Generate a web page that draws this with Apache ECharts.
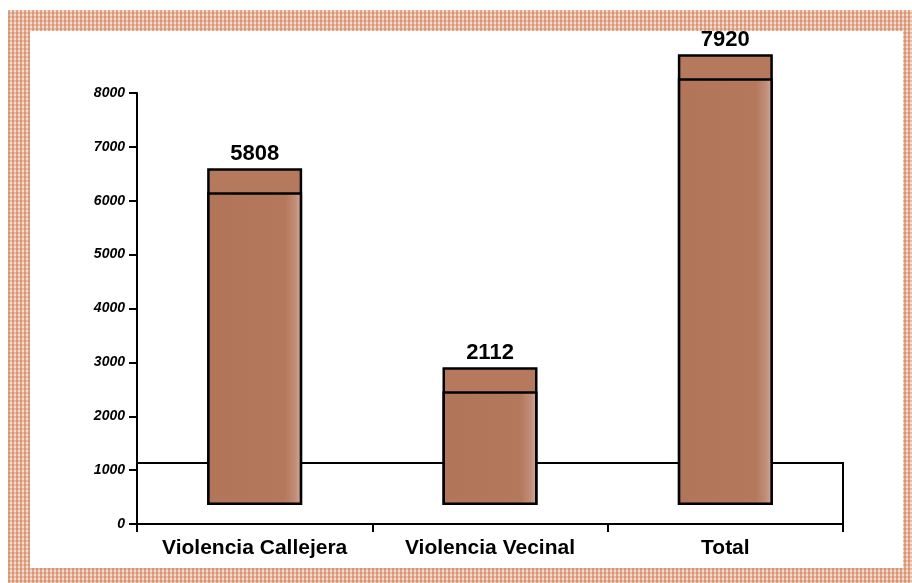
<!DOCTYPE html>
<html>
<head>
<meta charset="utf-8">
<script src="https://cdn.jsdelivr.net/npm/echarts@6/dist/echarts.min.js"></script>
<style>
  html, body { margin: 0; padding: 0; background: #fff; }
  .page { position: relative; width: 912px; height: 583px; overflow: hidden; background: #fff; }
  .frame {
    position: absolute; left: 8px; top: 10px; width: 904px; height: 573px;
    background-color: #f4ddd0;
    background-image:
      linear-gradient(90deg, rgba(205, 120, 80, 0.55) 50%, transparent 50%),
      linear-gradient(0deg, rgba(205, 120, 80, 0.35) 50%, transparent 50%);
    background-size: 4px 4px;
  }
  .inner { position: absolute; left: 30px; top: 31px; width: 873px; height: 537px; background: #fff; }
  #chart { position: absolute; left: 0; top: 0; width: 912px; height: 583px; }
</style>
</head>
<body>
<div class="page">
  <div class="frame"></div>
  <div class="inner"></div>
  <div id="chart"></div>
</div>
<script>
// data
const categories = ['Violencia Callejera', 'Violencia Vecinal', 'Total']
const values = [5808, 2112, 7920]
const yTicks = [0, 1000, 2000, 3000, 4000, 5000, 6000, 7000, 8000]

// pseudo-3D look: bars sit on a floor and show a top face
const depthOffset = 352
const topFace = 445
const floorHeight = 1130

const barColor = {
  type: 'linear', x: 0, y: 0, x2: 1, y2: 0,
  colorStops: [
    { offset: 0, color: '#b1755a' },
    { offset: 0.82, color: '#b4785c' },
    { offset: 0.93, color: '#c28e78' },
    { offset: 1, color: '#d6b0a2' },
  ],
}

const font = 'Liberation Sans, Arial, sans-serif'

const chart = echarts.init(document.getElementById('chart'), null, { renderer: 'canvas' })

const option = {
  backgroundColor: 'transparent',
  animation: false,
  grid: { left: 137, right: 69, top: 93, bottom: 59 },
  xAxis: {
    type: 'category',
    data: categories,
    axisLine: { lineStyle: { color: '#000', width: 2 } },
    axisTick: { show: true, interval: 0, length: 8, lineStyle: { color: '#000', width: 2 } },
    axisLabel: {
      interval: 0,
      hideOverlap: false,
      margin: 14,
      color: '#000',
      fontFamily: font,
      fontWeight: 'bold',
      fontSize: 21,
    },
  },
  yAxis: {
    type: 'value',
    min: yTicks[0],
    max: yTicks[yTicks.length - 1],
    interval: 1000,
    splitLine: { show: false },
    axisLine: { show: true, lineStyle: { color: '#000', width: 2 } },
    axisTick: { show: true, length: 8, lineStyle: { color: '#000', width: 2 } },
    axisLabel: {
      margin: 12,
      color: '#000',
      fontFamily: font,
      fontWeight: 'bold',
      fontStyle: 'italic',
      fontSize: 14,
      formatter: (v) => String(v),
    },
  },
  series: [
    {
      name: 'baseTop',
      type: 'bar',
      stack: 'outer',
      barWidth: 95,
      barGap: '-100%',
      z: 1,
      silent: true,
      itemStyle: { color: 'transparent' },
      data: values.map(() => depthOffset),
      markArea: {
        silent: true,
        itemStyle: { color: '#fff', borderColor: '#000', borderWidth: 2 },
        data: [[{ yAxis: 0 }, { yAxis: floorHeight }]],
      },
    },
    {
      name: 'top',
      type: 'bar',
      stack: 'outer',
      barWidth: 95,
      barGap: '-100%',
      z: 2,
      clip: false,
      itemStyle: { color: '#b57a5e', borderColor: '#000', borderWidth: 2.5 },
      label: {
        show: true,
        position: 'top',
        distance: 3,
        color: '#000',
        fontFamily: font,
        fontWeight: 'bold',
        fontSize: 22,
        formatter: (p) => String(values[p.dataIndex]),
      },
      data: values.map((v) => v + topFace),
    },
    {
      name: 'baseFront',
      type: 'bar',
      stack: 'inner',
      barWidth: 95,
      barGap: '-100%',
      z: 1,
      silent: true,
      itemStyle: { color: 'transparent' },
      data: values.map(() => depthOffset),
    },
    {
      name: 'front',
      type: 'bar',
      stack: 'inner',
      barWidth: 95,
      barGap: '-100%',
      z: 3,
      clip: false,
      itemStyle: { color: barColor, borderColor: '#000', borderWidth: 2.5 },
      data: values,
    },
  ],
}

chart.setOption(option)
</script>
</body>
</html>
